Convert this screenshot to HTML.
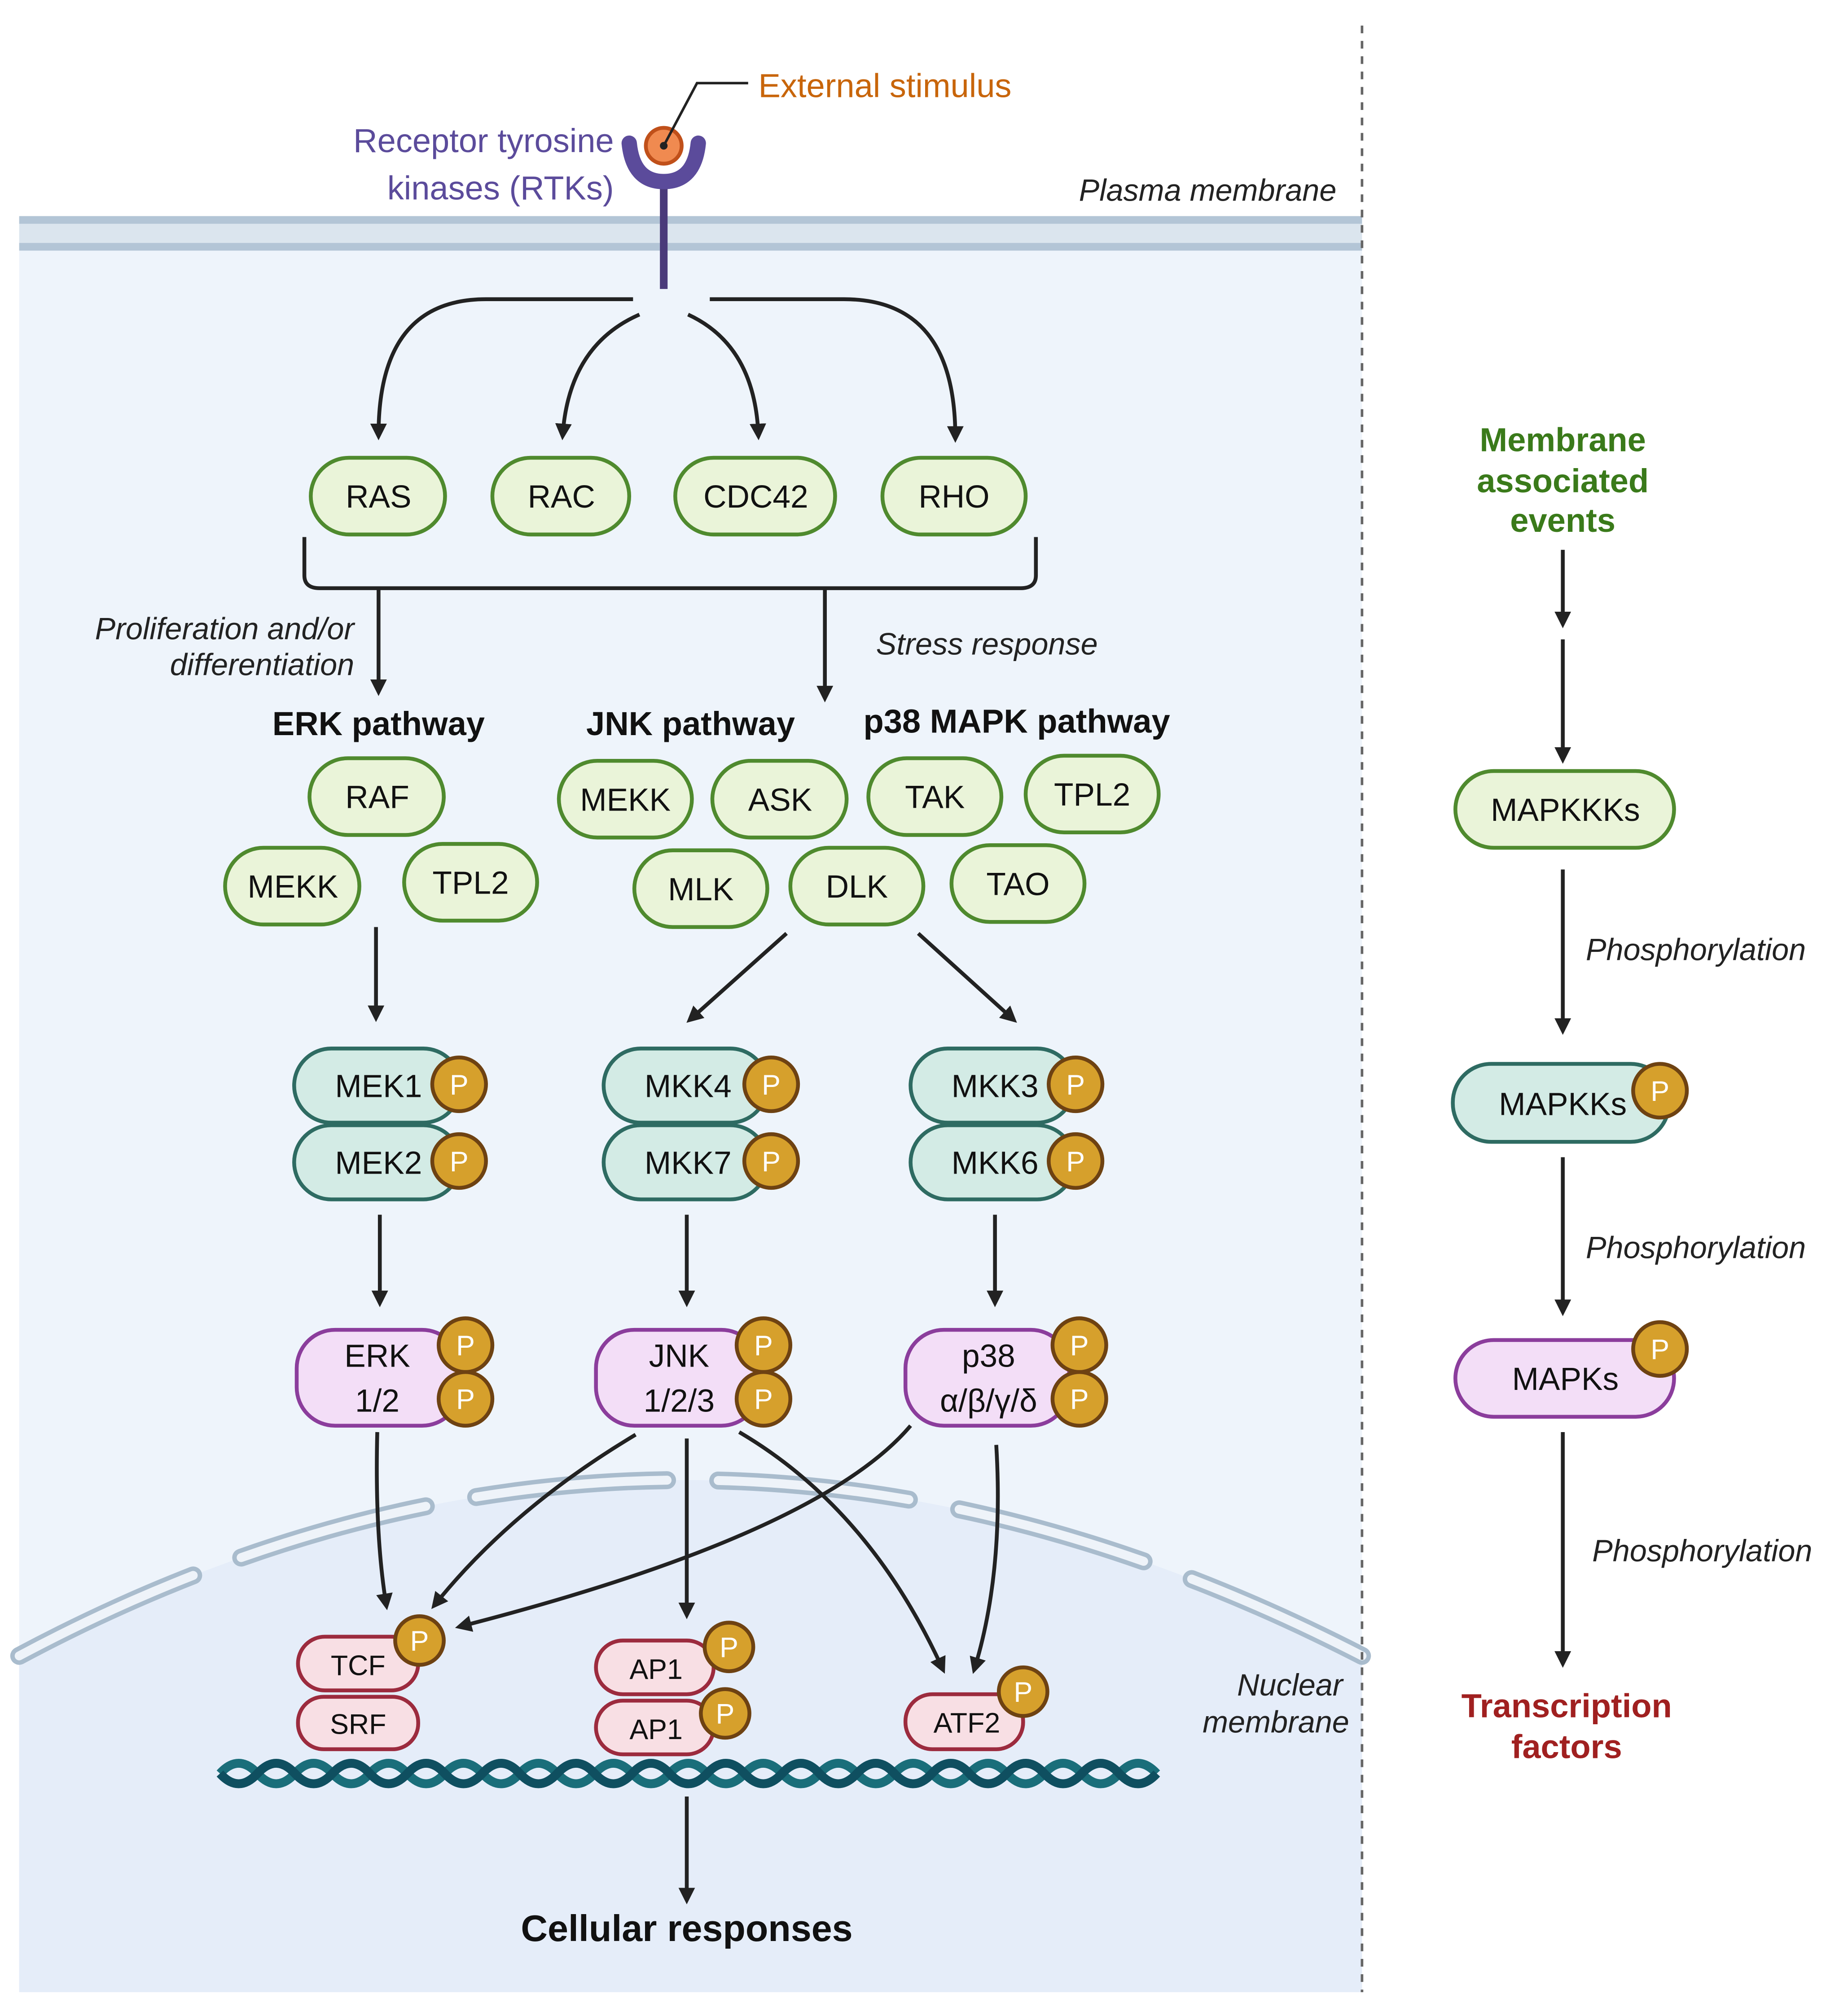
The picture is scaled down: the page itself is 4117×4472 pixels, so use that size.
<!DOCTYPE html>
<html><head><meta charset="utf-8"><style>
html,body{margin:0;padding:0;background:#fff;}
svg{display:block;}
text{font-family:"Liberation Sans",sans-serif;}
.n{font-size:25px;fill:#111;text-anchor:middle;}
.i{font-style:italic;font-size:24px;fill:#222;}
.b{font-weight:bold;font-size:26px;fill:#111;text-anchor:middle;}
.g{fill:#eaf4d9;stroke:#4f8a2e;stroke-width:3;}
.t{fill:#d3ebe5;stroke:#2e6b62;stroke-width:3;}
.pu{fill:#f3def7;stroke:#8b3d9c;stroke-width:3;}
.pk{fill:#f8dfe4;stroke:#9c2b3e;stroke-width:3;}
.p{fill:#d6a02c;stroke:#6e4212;stroke-width:3;}
.pt{font-size:22px;fill:#fff;text-anchor:middle;}
.a{fill:none;stroke:#222;stroke-width:3;marker-end:url(#ah);}
</style></head><body>
<svg width="4117" height="4472" viewBox="0 0 1445 1569.6" preserveAspectRatio="none" xmlns="http://www.w3.org/2000/svg">
<defs>
<marker id="ah" markerWidth="13" markerHeight="13" refX="8" refY="6" orient="auto" markerUnits="userSpaceOnUse" viewBox="0 0 12 12">
<path d="M0,0 L12,6 L0,12 Z" fill="#222"/></marker>
</defs>
<rect x="15" y="195" width="1050" height="1363" fill="#eef4fb"/>
<path d="M15,1295 Q530,1020 1065,1295 L1065,1558 L15,1558 Z" fill="#e5edf9"/>
<path d="M15,1295 Q530,1020 1065,1295" fill="none" stroke="#a9bccd" stroke-width="14" stroke-dasharray="150,40" stroke-linecap="round"/>
<path d="M15,1295 Q530,1020 1065,1295" fill="none" stroke="#eef3f9" stroke-width="7" stroke-dasharray="150,40" stroke-linecap="round"/>
<rect x="15" y="170" width="1050" height="26" fill="#dbe5ee"/>
<rect x="15" y="169" width="1050" height="6" fill="#b3c5d6"/>
<rect x="15" y="190" width="1050" height="6" fill="#b3c5d6"/>
<line x1="1065" y1="20" x2="1065" y2="1558" stroke="#666" stroke-width="2" stroke-dasharray="6,6"/>
<line x1="519" y1="138" x2="519" y2="226" stroke="#4a3a7a" stroke-width="6"/>
<path d="M492,112 Q495,142 519,142 Q543,142 546,112" fill="none" stroke="#5b4b9b" stroke-width="12" stroke-linecap="round"/>
<circle cx="519" cy="114" r="14" fill="#f08a50" stroke="#c0501a" stroke-width="3"/>
<circle cx="519" cy="114" r="3" fill="#222"/>
<polyline points="519,114 545,65 585,65" fill="none" stroke="#222" stroke-width="2"/>
<text x="593" y="76" style="font-size:26px;fill:#c8650a">External stimulus</text>
<text x="480" y="119" style="font-size:26px;fill:#5b4b9b;text-anchor:end">Receptor tyrosine</text>
<text x="480" y="156" style="font-size:26px;fill:#5b4b9b;text-anchor:end">kinases (RTKs)</text>
<text x="1045" y="157" class="i" text-anchor="end">Plasma membrane</text>
<path class="a" d="M495,234 L380,234 Q296,234 296,340"/>
<path class="a" d="M500,246 Q445,270 440,340"/>
<path class="a" d="M538,246 Q590,270 593,340"/>
<path class="a" d="M555,234 L660,234 Q747,234 747,342"/>
<rect class="g" x="243" y="358" width="105" height="60" rx="30"/><text class="n" x="296" y="397">RAS</text>
<rect class="g" x="385" y="358" width="107" height="60" rx="30"/><text class="n" x="439" y="397">RAC</text>
<rect class="g" x="528" y="358" width="125" height="60" rx="30"/><text class="n" x="591" y="397">CDC42</text>
<rect class="g" x="690" y="358" width="112" height="60" rx="30"/><text class="n" x="746" y="397">RHO</text>
<path d="M238,420 L238,450 Q238,460 250,460 L798,460 Q810,460 810,450 L810,420" fill="none" stroke="#222" stroke-width="3"/>
<line class="a" x1="296" y1="460" x2="296" y2="540"/>
<line class="a" x1="645" y1="460" x2="645" y2="545"/>
<text class="i" x="277" y="500" text-anchor="end">Proliferation and/or</text>
<text class="i" x="277" y="528" text-anchor="end">differentiation</text>
<text class="i" x="685" y="512">Stress response</text>
<text class="b" x="296" y="575">ERK pathway</text>
<text class="b" x="540" y="575">JNK pathway</text>
<text class="b" x="795" y="573">p38 MAPK pathway</text>
<g>
<rect class="g" x="242" y="593" width="105" height="60" rx="30"/><text class="n" x="295" y="632">RAF</text>
<rect class="g" x="176" y="663" width="105" height="60" rx="30"/><text class="n" x="229" y="702">MEKK</text>
<rect class="g" x="316" y="660" width="104" height="60" rx="30"/><text class="n" x="368" y="699">TPL2</text>
<rect class="g" x="437" y="595" width="104" height="60" rx="30"/><text class="n" x="489" y="634">MEKK</text>
<rect class="g" x="557" y="595" width="105" height="60" rx="30"/><text class="n" x="610" y="634">ASK</text>
<rect class="g" x="679" y="593" width="104" height="60" rx="30"/><text class="n" x="731" y="632">TAK</text>
<rect class="g" x="802" y="591" width="104" height="60" rx="30"/><text class="n" x="854" y="630">TPL2</text>
<rect class="g" x="496" y="665" width="104" height="60" rx="30"/><text class="n" x="548" y="704">MLK</text>
<rect class="g" x="618" y="663" width="104" height="60" rx="30"/><text class="n" x="670" y="702">DLK</text>
<rect class="g" x="744" y="661" width="104" height="60" rx="30"/><text class="n" x="796" y="700">TAO</text>
</g>
<line class="a" x1="294" y1="725" x2="294" y2="795"/>
<line class="a" x1="615" y1="730" x2="540" y2="797"/>
<line class="a" x1="718" y1="730" x2="792" y2="797"/>
<g>
<rect class="t" x="230" y="820" width="130" height="58" rx="29"/><text class="n" x="296" y="858">MEK1</text>
<rect class="t" x="230" y="880" width="130" height="58" rx="29"/><text class="n" x="296" y="918">MEK2</text>
<circle class="p" cx="359" cy="848" r="21"/><text class="pt" x="359" y="856">P</text>
<circle class="p" cx="359" cy="908" r="21"/><text class="pt" x="359" y="916">P</text>
<rect class="t" x="472" y="820" width="128" height="58" rx="29"/><text class="n" x="538" y="858">MKK4</text>
<rect class="t" x="472" y="880" width="128" height="58" rx="29"/><text class="n" x="538" y="918">MKK7</text>
<circle class="p" cx="603" cy="848" r="21"/><text class="pt" x="603" y="856">P</text>
<circle class="p" cx="603" cy="908" r="21"/><text class="pt" x="603" y="916">P</text>
<rect class="t" x="712" y="820" width="128" height="58" rx="29"/><text class="n" x="778" y="858">MKK3</text>
<rect class="t" x="712" y="880" width="128" height="58" rx="29"/><text class="n" x="778" y="918">MKK6</text>
<circle class="p" cx="841" cy="848" r="21"/><text class="pt" x="841" y="856">P</text>
<circle class="p" cx="841" cy="908" r="21"/><text class="pt" x="841" y="916">P</text>
</g>
<line class="a" x1="297" y1="950" x2="297" y2="1018"/>
<line class="a" x1="537" y1="950" x2="537" y2="1018"/>
<line class="a" x1="778" y1="950" x2="778" y2="1018"/>
<g>
<rect class="pu" x="232" y="1040" width="128" height="75" rx="30"/><text class="n" x="295" y="1069">ERK</text><text class="n" x="295" y="1104">1/2</text>
<circle class="p" cx="364" cy="1052" r="21"/><text class="pt" x="364" y="1060">P</text>
<circle class="p" cx="364" cy="1094" r="21"/><text class="pt" x="364" y="1102">P</text>
<rect class="pu" x="466" y="1040" width="128" height="75" rx="30"/><text class="n" x="531" y="1069">JNK</text><text class="n" x="531" y="1104">1/2/3</text>
<circle class="p" cx="597" cy="1052" r="21"/><text class="pt" x="597" y="1060">P</text>
<circle class="p" cx="597" cy="1094" r="21"/><text class="pt" x="597" y="1102">P</text>
<rect class="pu" x="708" y="1040" width="128" height="75" rx="30"/><text class="n" x="773" y="1069">p38</text><text class="n" x="773" y="1104">α/β/γ/δ</text>
<circle class="p" cx="844" cy="1052" r="21"/><text class="pt" x="844" y="1060">P</text>
<circle class="p" cx="844" cy="1094" r="21"/><text class="pt" x="844" y="1102">P</text>
</g>
<path class="a" d="M295,1120 Q293,1200 302,1255"/>
<path class="a" d="M497,1122 Q400,1180 340,1255"/>
<line class="a" x1="537" y1="1125" x2="537" y2="1262"/>
<path class="a" d="M578,1120 Q680,1180 737,1305"/>
<path class="a" d="M712,1115 Q640,1200 360,1272"/>
<path class="a" d="M779,1130 Q785,1230 762,1305"/>
<g>
<rect class="pk" x="233" y="1280" width="94" height="42" rx="21"/><text class="n" x="280" y="1310" style="font-size:22px">TCF</text>
<rect class="pk" x="233" y="1327" width="94" height="41" rx="20"/><text class="n" x="280" y="1356" style="font-size:22px">SRF</text>
<circle class="p" cx="328" cy="1283" r="19"/><text class="pt" x="328" y="1291">P</text>
<rect class="pk" x="466" y="1283" width="92" height="42" rx="21"/><text class="n" x="513" y="1313" style="font-size:22px">AP1</text>
<rect class="pk" x="466" y="1330" width="92" height="42" rx="21"/><text class="n" x="513" y="1360" style="font-size:22px">AP1</text>
<circle class="p" cx="570" cy="1288" r="19"/><text class="pt" x="570" y="1296">P</text>
<circle class="p" cx="567" cy="1340" r="19"/><text class="pt" x="567" y="1348">P</text>
<rect class="pk" x="708" y="1325" width="92" height="43" rx="21"/><text class="n" x="756" y="1355" style="font-size:22px">ATF2</text>
<circle class="p" cx="800" cy="1323" r="19"/><text class="pt" x="800" y="1331">P</text>
</g>
<path d="M172,1387 q14.6,-16 29.3,0 t29.3,0 t29.3,0 t29.3,0 t29.3,0 t29.3,0 t29.3,0 t29.3,0 t29.3,0 t29.3,0 t29.3,0 t29.3,0 t29.3,0 t29.3,0 t29.3,0 t29.3,0 t29.3,0 t29.3,0 t29.3,0 t29.3,0 t29.3,0 t29.3,0 t29.3,0 t29.3,0 t29.3,0" fill="none" stroke="#1a6e7a" stroke-width="7"/>
<path d="M172,1387 q14.6,16 29.3,0 t29.3,0 t29.3,0 t29.3,0 t29.3,0 t29.3,0 t29.3,0 t29.3,0 t29.3,0 t29.3,0 t29.3,0 t29.3,0 t29.3,0 t29.3,0 t29.3,0 t29.3,0 t29.3,0 t29.3,0 t29.3,0 t29.3,0 t29.3,0 t29.3,0 t29.3,0 t29.3,0 t29.3,0" fill="none" stroke="#0f4f60" stroke-width="7"/>
<line class="a" x1="537" y1="1405" x2="537" y2="1485"/>
<text class="b" x="537" y="1518" style="font-size:29px">Cellular responses</text>
<text class="i" x="1050" y="1326" text-anchor="end">Nuclear</text>
<text class="i" x="1055" y="1355" text-anchor="end">membrane</text>
<g style="font-weight:bold;font-size:26px;fill:#3a7a1a;text-anchor:middle">
<text x="1222" y="353">Membrane</text><text x="1222" y="385">associated</text><text x="1222" y="416">events</text></g>
<line class="a" x1="1222" y1="430" x2="1222" y2="487"/>
<line class="a" x1="1222" y1="500" x2="1222" y2="593"/>
<rect class="g" x="1138" y="603" width="171" height="60" rx="30"/><text class="n" x="1224" y="642">MAPKKKs</text>
<line class="a" x1="1222" y1="680" x2="1222" y2="805"/>
<text class="i" x="1240" y="751">Phosphorylation</text>
<rect class="t" x="1136" y="832" width="169" height="61" rx="30"/><text class="n" x="1222" y="872">MAPKKs</text>
<circle class="p" cx="1298" cy="853" r="21"/><text class="pt" x="1298" y="861">P</text>
<line class="a" x1="1222" y1="905" x2="1222" y2="1025"/>
<text class="i" x="1240" y="984">Phosphorylation</text>
<rect class="pu" x="1138" y="1048" width="171" height="60" rx="30"/><text class="n" x="1224" y="1087">MAPKs</text>
<circle class="p" cx="1298" cy="1055" r="21"/><text class="pt" x="1298" y="1063">P</text>
<line class="a" x1="1222" y1="1120" x2="1222" y2="1300"/>
<text class="i" x="1245" y="1221">Phosphorylation</text>
<g style="font-weight:bold;font-size:26px;fill:#a02020;text-anchor:middle">
<text x="1225" y="1343">Transcription</text><text x="1225" y="1375">factors</text></g>
</svg>
</body></html>
